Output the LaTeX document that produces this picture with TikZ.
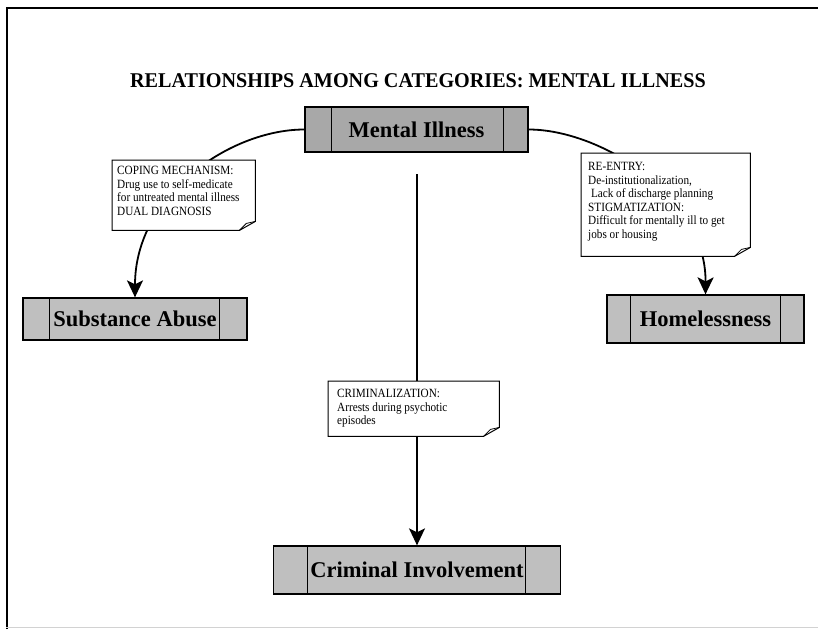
\documentclass[tikz,border=0pt]{standalone}
\usepackage{fontspec}
\setmainfont{Liberation Serif}
\newfontfamily\notefont[FakeStretch=0.89]{Liberation Serif}
\newfontfamily\titlefont[FakeStretch=0.96]{Liberation Serif}
\usetikzlibrary{arrows.meta}
\tikzset{
  catbox/.style={draw=black, line width=1.3pt, fill=gray!50, inner sep=0pt,
    font=\fontsize{22.5}{24}\selectfont\bfseries},
  noteshape/.style={inner sep=0pt, anchor=north west},
  noteline/.style={draw=black, line width=1pt, fill=white},
  foldline/.style={draw=black, line width=0.8pt},
  notetext/.style={anchor=north west, align=left, inner sep=0pt,
    font=\notefont\fontsize{12.6}{13.6}\selectfont},
  conn/.style={line width=1.8pt, -{Stealth[length=17pt,width=16pt,inset=4pt]}},
  divider/.style={line width=1.2pt},
  frameline/.style={line width=2pt},
}
\newcommand\drawnote[1]{%
  \path[noteline] (#1.north west) -- (#1.north east) -- ([yshift=9pt]#1.south east)
    -- ([xshift=-16pt]#1.south east) -- (#1.south west) -- cycle;
  \path[foldline] ([xshift=-16pt]#1.south east) -- ([xshift=-9pt,yshift=7pt]#1.south east)
    -- ([yshift=9pt]#1.south east);
}
\begin{document}
\begin{tikzpicture}[x=1pt,y=-1pt]
\useasboundingbox (0,0) rectangle (818,629);
% frame
\draw[frameline] (6.5,629) -- (6.5,8) -- (818,8);
\draw[gray!35, line width=1pt] (6,627) -- (818,627);

% title
\node[font=\titlefont\fontsize{21}{23}\selectfont\bfseries] (title) at (418,81)
  {RELATIONSHIPS AMONG CATEGORIES: MENTAL ILLNESS};

% category boxes
\node[catbox, fill=gray!68, minimum width=223pt, minimum height=45pt] (mi) at (416.5,129.5) {Mental Illness};
\node[catbox, minimum width=224pt, minimum height=42pt] (sa) at (135,319) {Substance Abuse};
\node[catbox, minimum width=197pt, minimum height=48pt] (ho) at (705.5,319) {Homelessness};
\node[catbox, minimum width=287pt, minimum height=48pt] (ci) at (417,570) {Criminal Involvement};

\foreach \n/\l/\r in {mi/27/25, sa/27/28, ho/24/24, ci/35/36}{
  \draw[divider] ([xshift=\l pt]\n.north west) -- ([xshift=\l pt]\n.south west);
  \draw[divider] ([xshift=-\r pt]\n.north east) -- ([xshift=-\r pt]\n.south east);
}

% connectors
\draw[conn] (mi.west) .. controls (230,129.5) and (135,195) .. (sa.north);
\draw[conn] (mi.east) .. controls (600,129.5) and (706,195) .. (ho.north);
\coordinate (vstart) at (417,174);
\draw[conn, line width=1.5pt] (vstart) -- (ci.north);

% notes
\node[noteshape, minimum width=143pt, minimum height=70pt] (cope) at (112,160) {};
\drawnote{cope}
\node[notetext] (copet) at (117,166) {COPING MECHANISM:\\Drug use to self-medicate\\for untreated mental illness\\DUAL DIAGNOSIS};

\node[noteshape, minimum width=169pt, minimum height=103pt] (reent) at (581,153) {};
\drawnote{reent}
\node[notetext] (reentt) at (588,162) {RE-ENTRY:\\De-institutionalization,\\\ Lack of discharge planning\\STIGMATIZATION:\\Difficult for mentally ill to get\\jobs or housing};

\node[noteshape, minimum width=171pt, minimum height=55pt] (crim) at (328,381) {};
\drawnote{crim}
\node[notetext] (crimt) at (337,389) {CRIMINALIZATION:\\Arrests during psychotic\\episodes};
\end{tikzpicture}
\end{document}
